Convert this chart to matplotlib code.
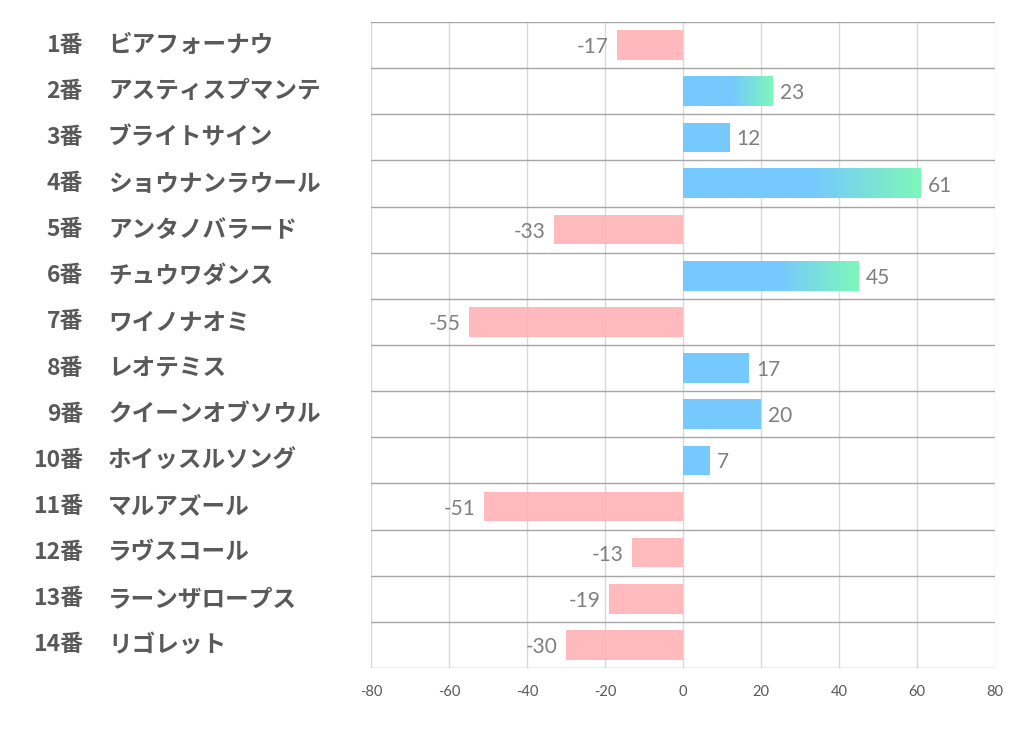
import numpy as np
import matplotlib
matplotlib.use("Agg")
import matplotlib.pyplot as plt
from matplotlib.colors import LinearSegmentedColormap
from matplotlib.transforms import blended_transform_factory

plt.rcParams['font.family'] = ['Noto Sans CJK JP', 'DejaVu Sans']

# data
numbers = ['1番', '2番', '3番', '4番', '5番', '6番', '7番', '8番', '9番', '10番',
           '11番', '12番', '13番', '14番']
names = ['ビアフォーナウ', 'アスティスプマンテ', 'ブライトサイン', 'ショウナンラウール',
         'アンタノバラード', 'チュウワダンス', 'ワイノナオミ', 'レオテミス',
         'クイーンオブソウル', 'ホイッスルソング', 'マルアズール', 'ラヴスコール',
         'ラーンザロープス', 'リゴレット']
values = [-17, 23, 12, 61, -33, 45, -55, 17, 20, 7, -51, -13, -19, -30]
xticks = [-80, -60, -40, -20, 0, 20, 40, 60, 80]

BLUE = '#76C9FD'
GREEN = '#7EF7BA'
PINK = '#FFB3B6'
grad_cmap = LinearSegmentedColormap.from_list(
    'bg', [(0.0, BLUE), (0.55, BLUE), (1.0, GREEN)])

fig = plt.figure(figsize=(10.22, 7.30), dpi=100)
ax = fig.add_axes([371 / 1022, 62 / 730, 624 / 1022, 646 / 730])

n = len(values)
ypos = np.arange(n)
bar_h = 0.64
top3 = sorted(values, reverse=True)[:3]
num_font = ['Lato', 'DejaVu Sans']

grad = np.linspace(0, 1, 256).reshape(1, -1)
for y, v in zip(ypos, values):
    if v < 0:
        ax.barh(y, v, height=bar_h, color=PINK, alpha=0.9, zorder=2)
    elif v in top3:
        ax.imshow(grad, cmap=grad_cmap, aspect='auto', interpolation='bicubic',
                  extent=(0, v, y + bar_h / 2, y - bar_h / 2), zorder=2)
    else:
        ax.barh(y, v, height=bar_h, color=BLUE, zorder=2)

    if v >= 0:
        ax.annotate(str(v), (v, y), xytext=(5, -1.5), textcoords='offset points',
                    ha='left', va='center', fontsize=15, color='#7F7F7F',
                    family=num_font)
    else:
        ax.annotate(str(v), (v, y), xytext=(-6, -1.5), textcoords='offset points',
                    ha='right', va='center', fontsize=15, color='#7F7F7F',
                    family=num_font)

ax.set_xlim(-80, 80)
ax.set_ylim(n - 0.5, -0.5)

# grid
for x in xticks:
    ax.axvline(x, color='#D9D9D9', lw=1, zorder=1)
for b in np.arange(-0.5, n, 1.0):
    ax.axhline(b, color='#A6A6A6', lw=1, zorder=1)

for s in ax.spines.values():
    s.set_visible(False)

ax.set_xticks(xticks)
ax.set_xticklabels([str(t) for t in xticks], family=num_font)
ax.tick_params(axis='x', length=0, pad=12, labelsize=10.5, labelcolor='#595959')
ax.set_yticks([])

trans = blended_transform_factory(fig.transFigure, ax.transData)
for y, num, name in zip(ypos, numbers, names):
    ax.text(83 / 1022, y, num, transform=trans, ha='right', va='center',
            fontsize=16.5, fontweight='bold', color='#595959')
    ax.text(108 / 1022, y, name, transform=trans, ha='left', va='center',
            fontsize=17, fontweight='bold', color='#595959')

fig.savefig('out.png', dpi=100)
